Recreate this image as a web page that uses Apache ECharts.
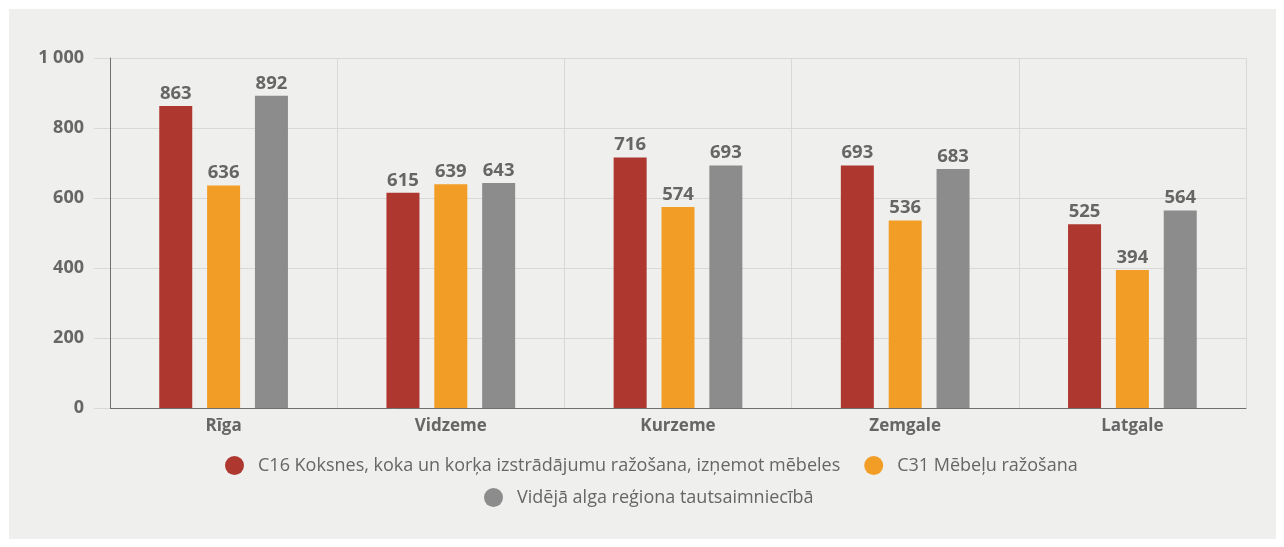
<!DOCTYPE html>
<html>
<head>
<meta charset="utf-8">
<script src="https://cdn.jsdelivr.net/npm/echarts@6/dist/echarts.min.js"></script>
<style>
  html, body { margin: 0; padding: 0; background: #ffffff; }
  #panel { position: absolute; left: 9px; top: 9px; width: 1267px; height: 530px; background: #efefed; }
  #chart { position: absolute; left: 0; top: 0; width: 1284px; height: 547px; }
</style>
</head>
<body>
<div id="panel"></div>
<div id="chart"></div>
<script>
const categories = ['Rīga', 'Vidzeme', 'Kurzeme', 'Zemgale', 'Latgale'];
const seriesNames = [
  'C16 Koksnes, koka un korķa izstrādājumu ražošana, izņemot mēbeles',
  'C31 Mēbeļu ražošana',
  'Vidējā alga reģiona tautsaimniecībā'
];
const c16Values = [863, 615, 716, 693, 525];
const c31Values = [636, 639, 574, 536, 394];
const avgValues = [892, 643, 693, 683, 564];
const colors = ['#ae3730', '#f29d26', '#8c8c8c'];
const fontFamily = '"Open Sans", "Noto Sans", sans-serif';
const textColor = '#666666';

const chart = echarts.init(document.getElementById('chart'), null, { renderer: 'canvas' });

function makeSeries(name, data, color) {
  return {
    name: name,
    type: 'bar',
    data: data,
    barWidth: 33,
    barGap: '45%',
    itemStyle: { color: color },
    label: {
      show: true,
      position: 'top',
      distance: 3,
      color: textColor,
      fontFamily: fontFamily,
      fontWeight: 'bold',
      fontSize: 18.5
    }
  };
}

const legendCommon = {
  icon: 'circle',
  itemWidth: 37,
  itemHeight: 19,
  itemGap: 24,
  textStyle: { color: textColor, fontFamily: fontFamily, fontSize: 18 }
};

chart.setOption({
  backgroundColor: 'transparent',
  animation: false,
  grid: { left: 110, right: 38, top: 58, bottom: 139, containLabel: false },
  legend: [
    Object.assign({}, legendCommon, { data: [seriesNames[0], seriesNames[1]], left: 220, top: 451 }),
    Object.assign({}, legendCommon, { data: [seriesNames[2]], left: 479, top: 483 })
  ],
  xAxis: {
    type: 'category',
    data: categories,
    axisLine: { show: true, lineStyle: { color: '#6f6f6f', width: 1 } },
    axisTick: { show: false },
    splitLine: { show: true, lineStyle: { color: '#d8d8d6', width: 1 } },
    axisLabel: {
      color: textColor,
      fontFamily: fontFamily,
      fontWeight: 'bold',
      fontSize: 17,
      margin: 10
    }
  },
  yAxis: {
    type: 'value',
    min: 0,
    max: 1000,
    interval: 200,
    axisLine: { show: true, lineStyle: { color: '#6f6f6f', width: 1 } },
    axisTick: { show: true, length: 16, lineStyle: { color: '#d8d8d6' } },
    splitLine: { show: true, lineStyle: { color: '#d8d8d6', width: 1 } },
    axisLabel: {
      color: textColor,
      fontFamily: fontFamily,
      fontWeight: 'bold',
      fontSize: 18,
      margin: 26,
      formatter: function (v) {
        return String(v).replace(/\B(?=(\d{3})+(?!\d))/g, ' ');
      }
    }
  },
  series: [
    makeSeries(seriesNames[0], c16Values, colors[0]),
    makeSeries(seriesNames[1], c31Values, colors[1]),
    makeSeries(seriesNames[2], avgValues, colors[2])
  ]
});
</script>
</body>
</html>
